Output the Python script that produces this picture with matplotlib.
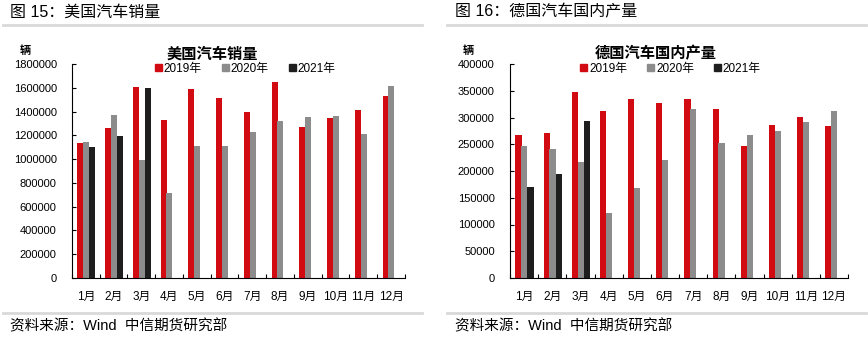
import numpy as np
import matplotlib.pyplot as plt
from matplotlib.patches import Patch

plt.rcParams['font.family'] = ['Liberation Sans', 'Noto Sans CJK SC', 'DejaVu Sans']

# Monthly data, units: vehicles
months = ['1月', '2月', '3月', '4月', '5月', '6月', '7月', '8月', '9月', '10月', '11月', '12月']
years = ['2019年', '2020年', '2021年']

us_2019 = [1135000, 1262000, 1607000, 1329000, 1590000, 1514000, 1396000, 1649000, 1270000, 1346000, 1413000, 1531000]
us_2020 = [1144000, 1371000, 993000, 715000, 1110000, 1110000, 1228000, 1321000, 1354000, 1363000, 1211000, 1615000]
us_2021 = [1102000, 1195000, 1598000]

de_2019 = [267300, 271000, 347600, 312100, 334600, 327100, 334600, 315900, 246700, 286000, 300900, 284100]
de_2020 = [246700, 241100, 216800, 121500, 168200, 220500, 315900, 252300, 267300, 274700, 291600, 312100]
de_2021 = [170100, 194400, 293400]

colors = ['#D20A11', '#8C8C8C', '#1E1E1E']

W, H = 868, 338
fig = plt.figure(figsize=(W / 100, H / 100), dpi=100)


def px_axes(x0, x1, y0, y1):
    return fig.add_axes([x0 / W, 1 - y1 / H, (x1 - x0) / W, (y1 - y0) / H])


def bar_panel(ax, series, ymax, ystep, title, title_x, legend_x):
    x = np.arange(len(months))
    width = 0.22
    offsets = [-0.2, 0.01, 0.23]
    for vals, off, c in zip(series, offsets, colors):
        ax.bar(x[:len(vals)] + off, vals, width=width, color=c, linewidth=0)
    ax.set_xlim(-0.5, len(months) - 0.5)
    ax.set_ylim(0, ymax)
    ticks = np.arange(0, ymax + 1, ystep)
    ax.set_yticks(ticks)
    ax.set_yticklabels([f'{int(v)}' for v in ticks])
    ax.set_xticks(x)
    ax.set_xticklabels(months)
    ax.set_xticks(np.arange(-0.5, len(months), 1.0), minor=True)
    ax.tick_params(axis='x', which='major', length=0, pad=9, labelsize=8.5)
    ax.tick_params(axis='x', which='minor', length=3, direction='in', width=0.8)
    ax.tick_params(axis='y', length=3, direction='in', width=0.8, labelsize=8, pad=11)
    for s in ['top', 'right']:
        ax.spines[s].set_visible(False)
    for s in ['left', 'bottom']:
        ax.spines[s].set_linewidth(0.8)
    ax.text(title_x, 1 + 10 / 214, title, transform=ax.transAxes, fontsize=11, fontweight='bold',
            ha='center', va='center')
    handles = [Patch(color=c, label=y) for c, y in zip(colors, years)]
    ax.legend(handles=handles, loc='center', bbox_to_anchor=(legend_x, 0.978), ncol=3,
              frameon=False, fontsize=8.5, handlelength=0.6, handleheight=0.6,
              handletextpad=0.15, columnspacing=1.7, borderaxespad=0, borderpad=0)


ax1 = px_axes(72, 405, 64, 278)
bar_panel(ax1, [us_2019, us_2020, us_2021], 1800000, 200000, '美国汽车销量', 0.42, 0.52)
ax2 = px_axes(510, 848, 64, 278)
bar_panel(ax2, [de_2019, de_2020, de_2021], 400000, 50000, '德国汽车国内产量', 0.43, 0.475)

# headings, units, rules and source lines
fig.text(10 / W, 1 - 12 / H, '图 15：美国汽车销量', fontsize=11.5, va='center', ha='left')
fig.text(455 / W, 1 - 12 / H, '图 16：德国汽车国内产量', fontsize=11.5, va='center', ha='left')
fig.text(20 / W, 1 - 51 / H, '辆', fontsize=8, fontweight='bold', va='center', ha='left')
fig.text(463 / W, 1 - 51 / H, '辆', fontsize=8, fontweight='bold', va='center', ha='left')

rule = dict(color='#D9D9D9', linewidth=2, transform=fig.transFigure)
fig.add_artist(plt.Line2D([3 / W, 422 / W], [1 - 25 / H] * 2, **rule))
fig.add_artist(plt.Line2D([447 / W, 866 / W], [1 - 25 / H] * 2, **rule))
fig.add_artist(plt.Line2D([3 / W, 422 / W], [1 - 313 / H] * 2, **rule))
fig.add_artist(plt.Line2D([447 / W, 866 / W], [1 - 313 / H] * 2, **rule))

fig.text(10 / W, 1 - 326 / H, '资料来源：Wind  中信期货研究部', fontsize=10.5, va='center', ha='left')
fig.text(455 / W, 1 - 326 / H, '资料来源：Wind  中信期货研究部', fontsize=10.5, va='center', ha='left')

fig.savefig('out.png', dpi=100)
